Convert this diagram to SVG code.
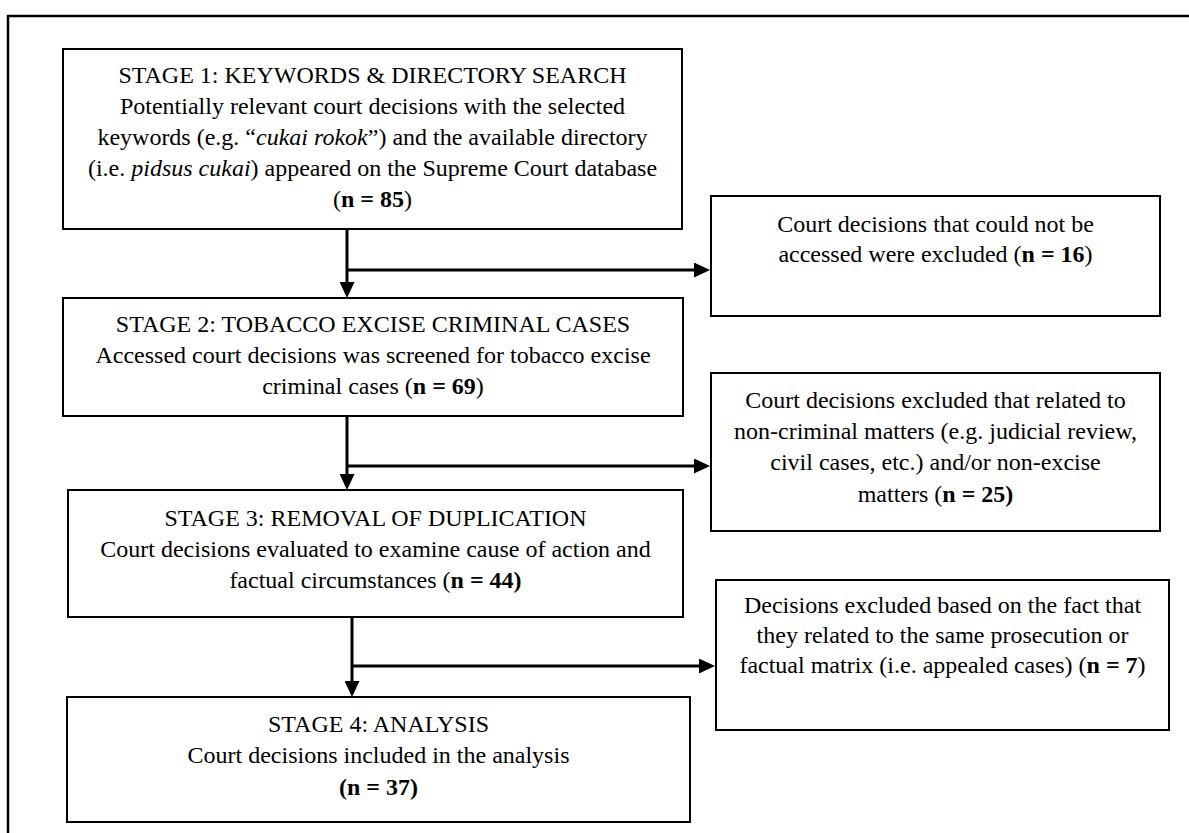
<svg xmlns="http://www.w3.org/2000/svg" width="1189" height="833" viewBox="0 0 1189 833">
<style>
.box{fill:#fff;stroke:#000;stroke-width:2}
.frame{fill:none;stroke:#000;stroke-width:2.5}
.conn{fill:none;stroke:#000;stroke-width:3}
text{font-family:"Liberation Serif","Times New Roman",serif;font-size:24px;fill:#000;text-anchor:middle}
.b{font-weight:bold}
.i{font-style:italic}
</style>
<defs>
<marker id="arr" viewBox="0 0 16 15" refX="7" refY="7.5" markerWidth="16" markerHeight="15" markerUnits="userSpaceOnUse" orient="auto">
<path d="M0,0 L16,7.5 L0,15 Z" fill="#000"/>
</marker>
</defs>
<rect class="frame" x="8" y="16" width="1200" height="840"/>
<g id="connectors">
<path class="conn" d="M347,229 V289" marker-end="url(#arr)"/>
<path class="conn" d="M347,270 H701" marker-end="url(#arr)"/>
<path class="conn" d="M347,416 V481" marker-end="url(#arr)"/>
<path class="conn" d="M347,466 H701" marker-end="url(#arr)"/>
<path class="conn" d="M352,617 V688" marker-end="url(#arr)"/>
<path class="conn" d="M352,666 H706" marker-end="url(#arr)"/>
</g>
<g id="stage1">
<rect class="box" x="63" y="49" width="619" height="180"/>
<text x="372.5" y="83">STAGE 1: KEYWORDS &amp; DIRECTORY SEARCH</text>
<text x="372.5" y="114">Potentially relevant court decisions with the selected</text>
<text x="372.5" y="145">keywords (e.g. “<tspan class="i">cukai rokok</tspan>”) and the available directory</text>
<text x="372.5" y="176">(i.e. <tspan class="i">pidsus cukai</tspan>) appeared on the Supreme Court database</text>
<text x="372.5" y="207">(<tspan class="b">n = 85</tspan>)</text>
</g>
<g id="excluded1">
<rect class="box" x="711" y="196" width="449" height="120"/>
<text x="935.5" y="232">Court decisions that could not be</text>
<text x="935.5" y="262">accessed were excluded (<tspan class="b">n = 16</tspan>)</text>
</g>
<g id="stage2">
<rect class="box" x="63" y="298" width="620" height="118"/>
<text x="373" y="332">STAGE 2: TOBACCO EXCISE CRIMINAL CASES</text>
<text x="373" y="363">Accessed court decisions was screened for tobacco excise</text>
<text x="373" y="394">criminal cases (<tspan class="b">n = 69</tspan>)</text>
</g>
<g id="excluded2">
<rect class="box" x="711" y="373" width="449" height="158"/>
<text x="935.5" y="408">Court decisions excluded that related to</text>
<text x="935.5" y="439">non-criminal matters (e.g. judicial review,</text>
<text x="935.5" y="470">civil cases, etc.) and/or non-excise</text>
<text x="935.5" y="502">matters (<tspan class="b">n = 25)</tspan></text>
</g>
<g id="stage3">
<rect class="box" x="68" y="490" width="615" height="127"/>
<text x="375.5" y="526">STAGE 3: REMOVAL OF DUPLICATION</text>
<text x="375.5" y="557">Court decisions evaluated to examine cause of action and</text>
<text x="375.5" y="588">factual circumstances (<tspan class="b">n = 44)</tspan></text>
</g>
<g id="excluded3">
<rect class="box" x="716" y="580" width="453" height="150"/>
<text x="942.5" y="613">Decisions excluded based on the fact that</text>
<text x="942.5" y="643">they related to the same prosecution or</text>
<text x="942.5" y="673">factual matrix (i.e. appealed cases) (<tspan class="b">n = 7</tspan>)</text>
</g>
<g id="stage4">
<rect class="box" x="67" y="697" width="623" height="125"/>
<text x="378.5" y="732">STAGE 4: ANALYSIS</text>
<text x="378.5" y="763">Court decisions included in the analysis</text>
<text x="378.5" y="795" class="b">(n = 37)</text>
</g>
</svg>
